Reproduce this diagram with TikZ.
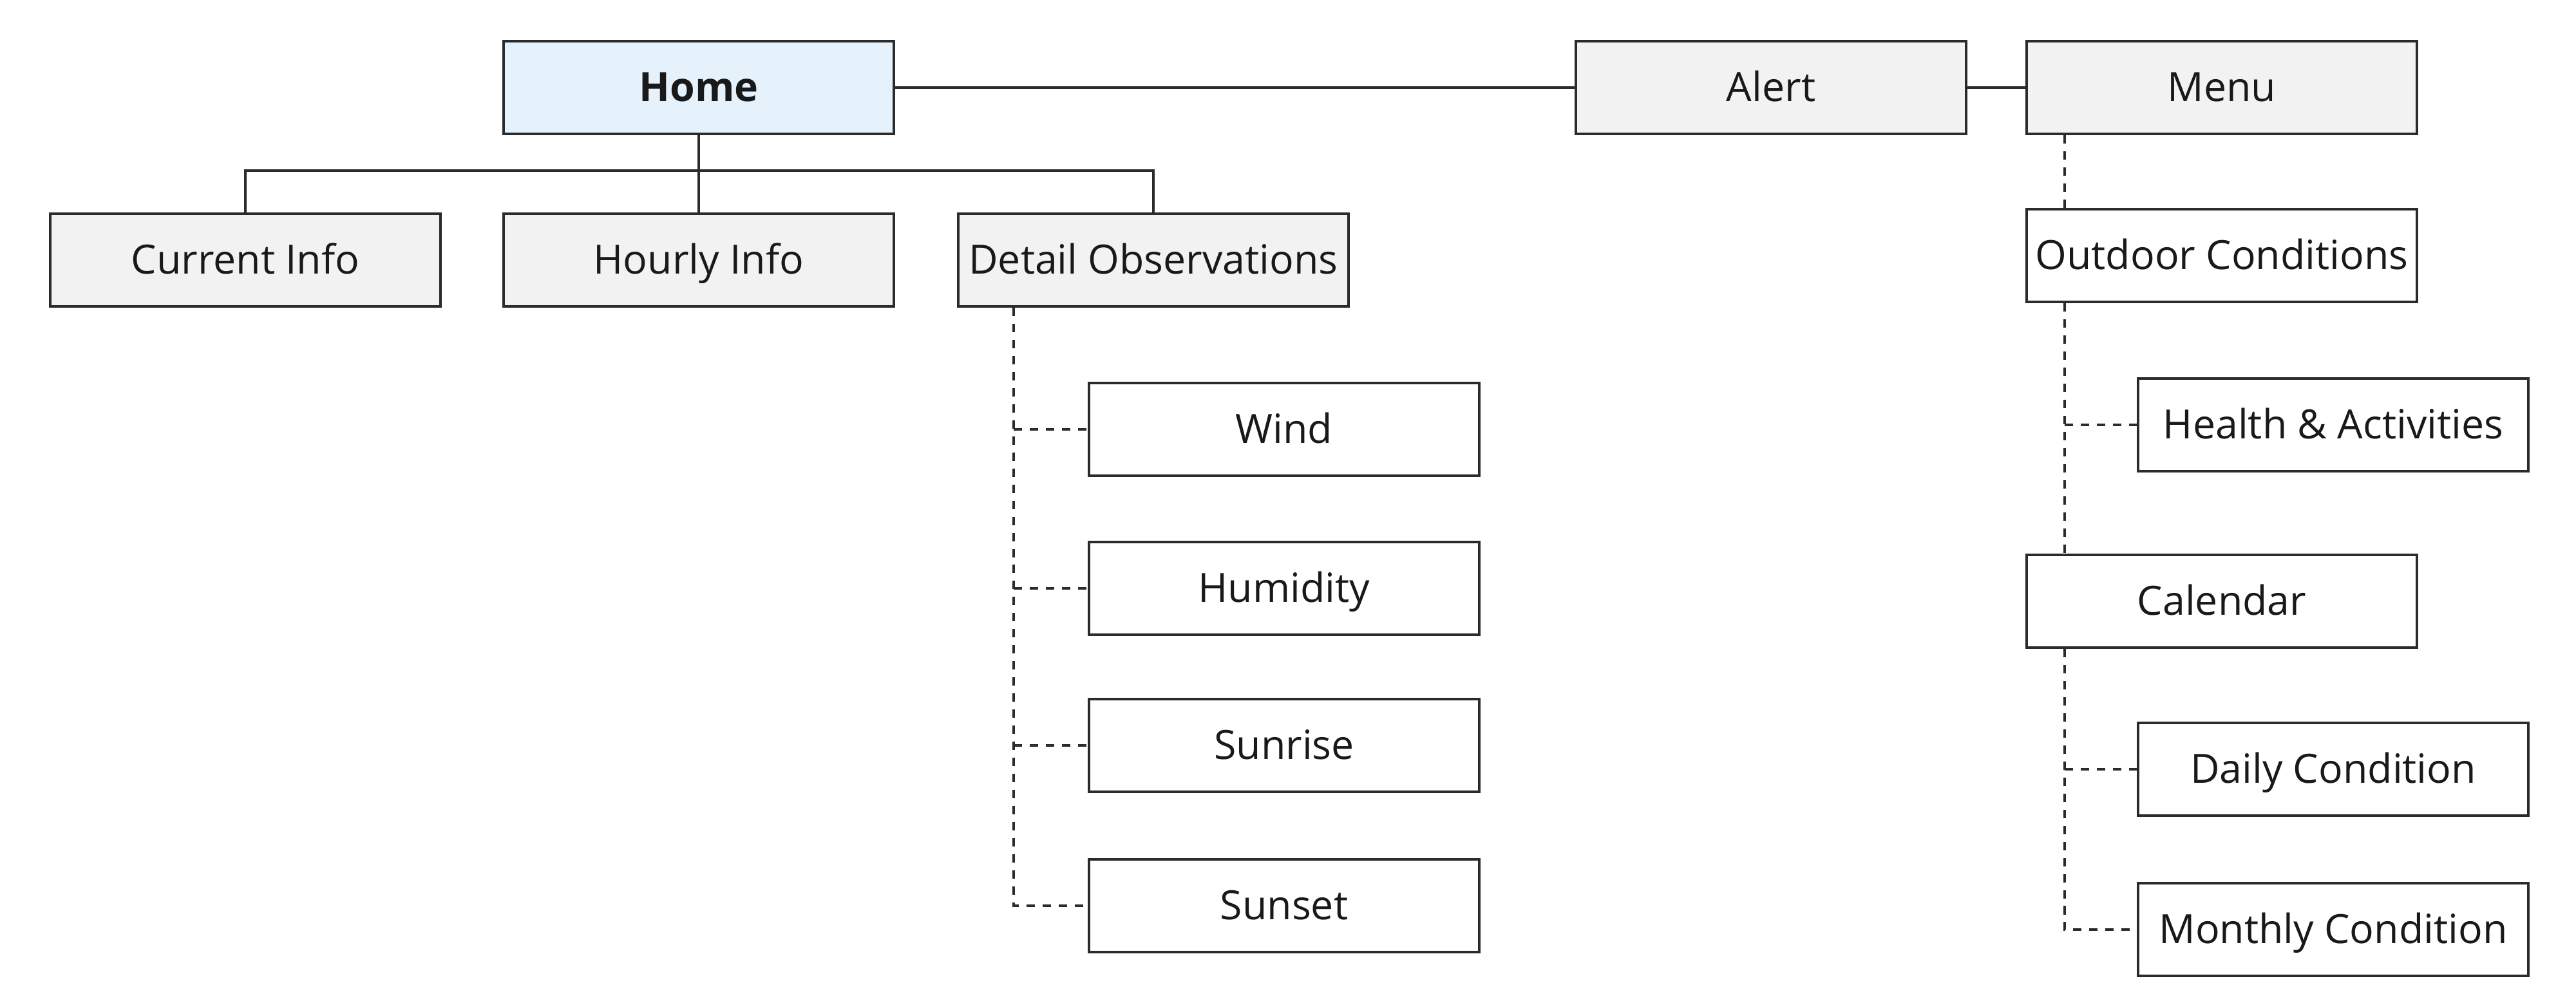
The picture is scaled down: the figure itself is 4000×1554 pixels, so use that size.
\documentclass[tikz,border=0pt]{standalone}
\usepackage{fontspec}
\setmainfont{Open Sans}
\definecolor{edge}{HTML}{2B2B2B}
\definecolor{homefill}{HTML}{E5F2FB}
\definecolor{greyfill}{HTML}{F2F2F2}
\begin{document}
\begin{tikzpicture}[x=0.01cm,y=-0.01cm,
  box/.style={draw=edge,line width=1.1pt,minimum width=6.05cm,minimum height=1.44cm,inner sep=0pt,
    text height=12.7pt,text depth=0.6pt,
    font=\fontsize{17.8}{21}\selectfont,text=black!90},
  topbox/.style={box,fill=greyfill},
  homebox/.style={box,fill=homefill,font=\fontsize{17.8}{21}\selectfont\bfseries},
  subbox/.style={box,fill=white},
  conn/.style={draw=edge,line width=0.9pt},
  dsh/.style={draw=edge,line width=0.9pt,dash pattern=on 3.7pt off 3.4pt}]
\useasboundingbox (0,0) rectangle (4000,1554);
% top row
\node[homebox] (home) at (1085,136) {Home};
\node[topbox] (alert) at (2750,136) {Alert};
\node[topbox] (menu) at (3450,136) {Menu};
% second row
\node[topbox] (cur) at (381,404) {Current Info};
\node[topbox] (hour) at (1085,404) {Hourly Info};
\node[topbox] (det) at (1791,404) {Detail Observations};
% detail children
\node[subbox] (wind) at (1994,667) {Wind};
\node[subbox] (humid) at (1994,914) {Humidity};
\node[subbox] (sunrise) at (1994,1158) {Sunrise};
\node[subbox] (sunset) at (1994,1407) {Sunset};
% menu column
\node[subbox] (out) at (3450,397) {Outdoor Conditions};
\node[subbox] (health) at (3623,660) {Health \& Activities};
\node[subbox] (cal) at (3450,934) {Calendar};
\node[subbox] (daily) at (3623,1195) {Daily Condition};
\node[subbox] (monthly) at (3623,1444) {Monthly Condition};
% solid connectors
\draw[conn] (home.east) -- (alert.west);
\draw[conn] (alert.east) -- (menu.west);
\coordinate (bar) at (1085,265);
\draw[conn] (home.south) -- (bar);
\draw[conn] (cur.north) |- (bar) -| (det.north);
\draw[conn] (bar) -- (hour.north);
% detail dashed tree
\coordinate (dl) at (1574,0);
\draw[dsh] (det.south -| dl) |- (sunset.west);
\draw[dsh] (wind.west -| dl) -- (wind.west);
\draw[dsh] (humid.west -| dl) -- (humid.west);
\draw[dsh] (sunrise.west -| dl) -- (sunrise.west);
% menu dashed tree
\coordinate (ml) at (3206,0);
\draw[dsh] (menu.south -| ml) -- (out.north -| ml);
\draw[dsh] (out.south -| ml) -- (cal.north -| ml);
\draw[dsh] (health.west -| ml) -- (health.west);
\draw[dsh] (cal.south -| ml) |- (monthly.west);
\draw[dsh] (daily.west -| ml) -- (daily.west);
\end{tikzpicture}
\end{document}
